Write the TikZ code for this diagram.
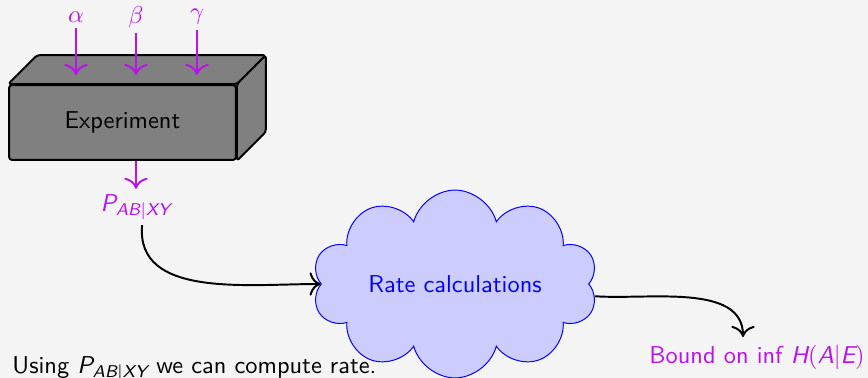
\documentclass[tikz,border=0pt]{standalone}
\usepackage{amsmath}
\usepackage{tikz}
\usetikzlibrary{arrows.meta,positioning,shapes.symbols}
\renewcommand{\familydefault}{\sfdefault}
\newcommand{\sfv}[1]{\text{\sffamily\itshape #1}}
\newcommand{\Pabxy}{\sfv{P}_{\sfv{AB}|\sfv{XY}}}
\definecolor{bgc}{HTML}{F4F4F4}
\definecolor{vio}{HTML}{BB11EE}
\definecolor{boxg}{HTML}{808080}
\definecolor{puff}{HTML}{CCCCFF}
\tikzset{
  face/.style={draw=black, fill=boxg, thick, rounded corners=1.2pt, line join=round},
  inp/.style={text=vio, inner sep=2pt},
  feed/.style={-{To[length=1.6mm]}, thick, draw=vio},
  flow/.style={-{To[length=1.6mm]}, thick, draw=black},
}

\begin{document}
\begin{tikzpicture}[x=0.41pt, y=0.41pt]
    \fill[bgc] (0,0) rectangle (868,-378);
    \useasboundingbox (0,0) rectangle (868,-378);
    % the box
    \node[face, minimum width=93pt, minimum height=30.7pt] (exp) at (122.5,-122.5) {};
    \draw[face] (exp.north west) -- ++(29,29) -- ([shift={(29,29)}]exp.north east) -- (exp.north east) -- cycle;
    \draw[face] (exp.north east) -- ++(29,29) -- ([shift={(29,29)}]exp.south east) -- (exp.south east) -- cycle;
    \node at (exp.center) {Experiment};
    % settings going in
    \node[inp] (al) at (76,-17) {$\alpha$};
    \node[inp] (be) at (136,-17) {$\beta$};
    \node[inp] (ga) at (197,-17) {$\gamma$};
    \coordinate (alt) at (76,-75);
    \coordinate (bet) at (136,-75);
    \coordinate (gat) at (197,-75);
    \draw[feed] (al.south) -- (alt);
    \draw[feed] (be.south) -- (bet);
    \draw[feed] (ga.south) -- (gat);
    \node[inp] (pab) at (136,-207) {$\Pabxy$};
    \draw[feed] (exp.south -| pab.north) -- (pab.north);
    % rates
    \node[cloud, cloud puffs=10, cloud ignores aspect, draw=blue, fill=puff, text=blue,
          minimum width=117pt, minimum height=77pt] (rate) at (455,-284) {Rate calculations};
    \node[text=vio, inner sep=2pt] (bnd) at (757,-357) {Bound on inf $\sfv{H}(\sfv{A}|\sfv{E})$};
    \coordinate (bndt) at (743,-337);
    \draw[flow] ([xshift=2.5pt]pab.south) to[out=-95, in=180] (rate.west);
    \draw[flow] (rate.-5) to[out=-4, in=90, looseness=0.9] (bndt);
    \node[anchor=base west, inner sep=0pt] (use) at (12,-373) {Using $\Pabxy$ we can compute rate.};
\end{tikzpicture}
\end{document}
